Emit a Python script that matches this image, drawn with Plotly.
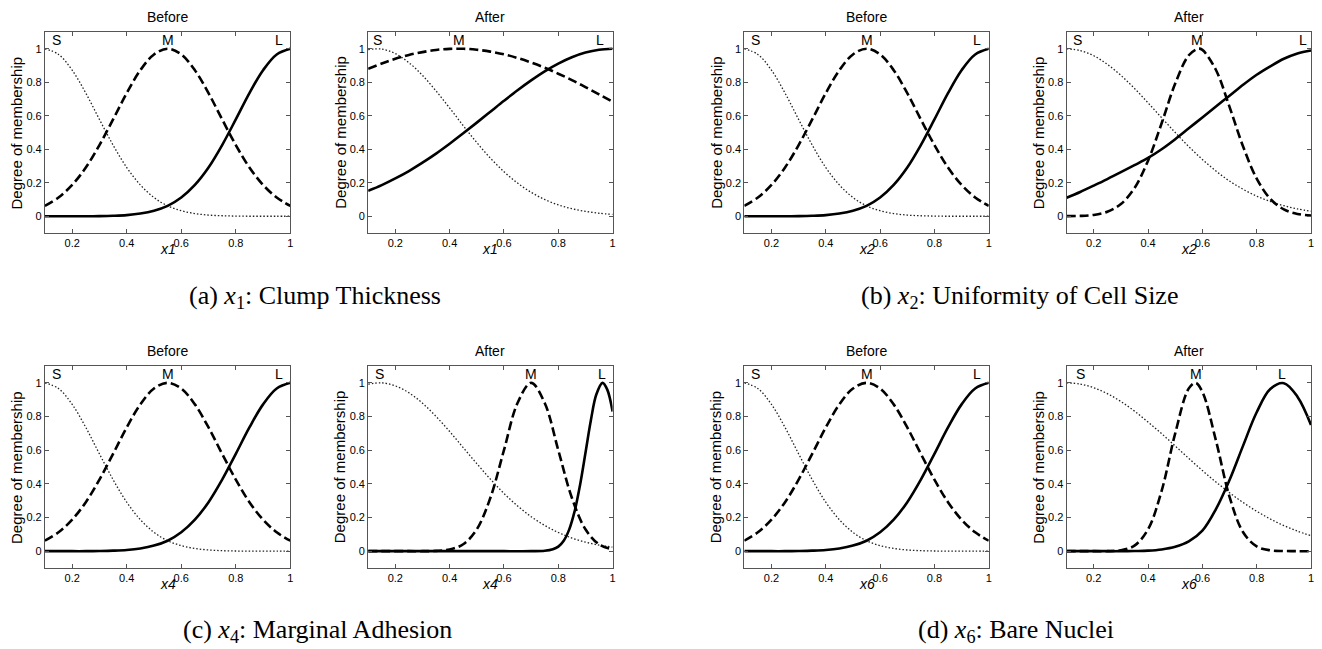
import plotly.graph_objects as go

W, H = 1322, 649

# ---------------- data ----------------
x_grid = [0.10, 0.15, 0.20, 0.25, 0.30, 0.35, 0.40, 0.45, 0.50, 0.55,
          0.60, 0.65, 0.70, 0.75, 0.80, 0.85, 0.90, 0.95, 1.00]

# "Before" panels (same initial partition for every input)
before_S = [1.000, 0.966, 0.872, 0.735, 0.578, 0.425, 0.291, 0.187, 0.112, 0.062,
            0.033, 0.016, 0.007, 0.003, 0.001, 0.000, 0.000, 0.000, 0.000]
before_M = [0.062, 0.112, 0.187, 0.291, 0.425, 0.578, 0.735, 0.872, 0.966, 1.000,
            0.966, 0.872, 0.735, 0.578, 0.425, 0.291, 0.187, 0.112, 0.062]
before_L = [0.000, 0.000, 0.000, 0.000, 0.001, 0.003, 0.007, 0.016, 0.033, 0.062,
            0.112, 0.187, 0.291, 0.425, 0.578, 0.735, 0.872, 0.966, 1.000]

# (a) x1 after
after1_S = [0.995, 0.998, 0.971, 0.917, 0.841, 0.748, 0.646, 0.541, 0.440, 0.347,
            0.266, 0.198, 0.143, 0.100, 0.068, 0.045, 0.029, 0.018, 0.011]
after1_M = [0.880, 0.912, 0.940, 0.963, 0.980, 0.993, 0.999, 1.000, 0.994, 0.983,
            0.967, 0.945, 0.918, 0.887, 0.851, 0.813, 0.771, 0.728, 0.683]
after1_L = [0.152, 0.186, 0.226, 0.270, 0.320, 0.374, 0.433, 0.495, 0.559, 0.624,
            0.689, 0.752, 0.811, 0.865, 0.911, 0.949, 0.977, 0.994, 1.000]

# (b) x2 after
after2_S = [1.000, 0.989, 0.958, 0.907, 0.841, 0.763, 0.677, 0.588, 0.500, 0.416,
            0.339, 0.270, 0.210, 0.161, 0.120, 0.088, 0.063, 0.044, 0.030]
x_after2_M = [0.10, 0.15, 0.20, 0.25, 0.30, 0.35, 0.40, 0.45, 0.50, 0.55, 0.585,
              0.60, 0.65, 0.70, 0.75, 0.80, 0.85, 0.90, 0.95, 1.00]
after2_M = [0.001, 0.002, 0.008, 0.027, 0.073, 0.168, 0.332, 0.555, 0.792, 0.961, 1.000,
            0.993, 0.873, 0.653, 0.416, 0.225, 0.104, 0.041, 0.014, 0.004]
after2_L = [0.110, 0.145, 0.183, 0.222, 0.263, 0.305, 0.348, 0.400, 0.460, 0.525,
            0.590, 0.655, 0.720, 0.785, 0.845, 0.895, 0.940, 0.972, 0.990]

# (c) x4 after
after3_S = [0.992, 1.000, 0.982, 0.941, 0.879, 0.800, 0.711, 0.615, 0.520, 0.428,
            0.343, 0.269, 0.205, 0.153, 0.111, 0.078, 0.054, 0.036, 0.024]
after3_M = [0.000, 0.000, 0.000, 0.000, 0.000, 0.002, 0.010, 0.041, 0.130, 0.317,
            0.600, 0.880, 1.000, 0.880, 0.600, 0.317, 0.130, 0.041, 0.010]
x_after3_L = [0.10, 0.20, 0.30, 0.40, 0.50, 0.60, 0.70, 0.75, 0.78, 0.80, 0.82, 0.84,
              0.86, 0.88, 0.90, 0.92, 0.94, 0.963, 0.98, 1.00]
after3_L = [0.000, 0.000, 0.000, 0.000, 0.000, 0.000, 0.000, 0.002, 0.011, 0.027, 0.062, 0.128,
            0.236, 0.392, 0.583, 0.778, 0.931, 1.000, 0.961, 0.830]

# (d) x6 after
after4_S = [1.000, 0.993, 0.971, 0.936, 0.889, 0.832, 0.767, 0.698, 0.625, 0.551,
            0.479, 0.411, 0.347, 0.289, 0.237, 0.191, 0.152, 0.119, 0.092]
x_after4_M = [0.10, 0.15, 0.20, 0.25, 0.30, 0.35, 0.40, 0.45, 0.50, 0.55, 0.575,
              0.60, 0.65, 0.70, 0.75, 0.80, 0.85, 0.90, 0.95, 1.00]
after4_M = [0.000, 0.000, 0.000, 0.000, 0.006, 0.033, 0.130, 0.358, 0.700, 0.967, 1.000,
            0.947, 0.657, 0.323, 0.112, 0.028, 0.005, 0.001, 0.000, 0.000]
after4_L = [0.000, 0.000, 0.000, 0.000, 0.000, 0.001, 0.003, 0.010, 0.026, 0.058,
            0.122, 0.250, 0.423, 0.627, 0.825, 0.963, 0.998, 0.918, 0.750]

set_labels = ["S", "M", "L"]
panel_titles = ["Before", "After"]
input_names = ["x1", "x2", "x4", "x6"]
captions = ["(a) <i>x</i><sub>1</sub>: Clump Thickness",
            "(b) <i>x</i><sub>2</sub>: Uniformity of Cell Size",
            "(c) <i>x</i><sub>4</sub>: Marginal Adhesion",
            "(d) <i>x</i><sub>6</sub>: Bare Nuclei"]
x_ticks = [0.2, 0.4, 0.6, 0.8, 1.0]
x_ticktext = ["0.2", "0.4", "0.6", "0.8", "1"]
y_ticks = [0, 0.2, 0.4, 0.6, 0.8, 1.0]
y_ticktext = ["0", "0.2", "0.4", "0.6", "0.8", "1"]

# label anchor positions for S / M / L (near each peak)
before_label_x = [0.143, 0.55, 0.958]
after_label_x = [[0.135, 0.434, 0.955],
                 [0.140, 0.581, 0.970],
                 [0.140, 0.698, 0.961],
                 [0.153, 0.575, 0.893]]

# ---------------- layout geometry (pixels) ----------------
col_px = [(45, 291), (369, 614), (746, 991), (1069, 1314)]
row_px = [(32, 233), (366, 568)]

SANS = "Liberation Sans, Arial, Helvetica, sans-serif"
SERIF = "Liberation Serif, Times New Roman, serif"

styles = {
    "S": dict(color="#222222", width=1.3, dash="1.5px,2px"),
    "M": dict(color="black", width=2.6, dash="9px,4px"),
    "L": dict(color="black", width=2.6),
}

panels = []
before_series = [(x_grid, before_S), (x_grid, before_M), (x_grid, before_L)]
after_series = [
    [(x_grid, after1_S), (x_grid, after1_M), (x_grid, after1_L)],
    [(x_grid, after2_S), (x_after2_M, after2_M), (x_grid, after2_L)],
    [(x_grid, after3_S), (x_grid, after3_M), (x_after3_L, after3_L)],
    [(x_grid, after4_S), (x_after4_M, after4_M), (x_grid, after4_L)],
]
for i in range(4):
    r = i // 2
    c0 = (i % 2) * 2
    panels.append((r, c0, before_series, before_label_x, input_names[i], panel_titles[0]))
    panels.append((r, c0 + 1, after_series[i], after_label_x[i], input_names[i], panel_titles[1]))

fig = go.Figure()
annotations = []
layout_axes = {}


def px_x(p):
    return p / W


def px_y(p):
    return 1 - p / H


for k, (r, c, series, lab_x, name, title) in enumerate(panels):
    idx = k + 1
    xa = "x" if idx == 1 else f"x{idx}"
    ya = "y" if idx == 1 else f"y{idx}"
    for (xs, ys), lab in zip(series, set_labels):
        fig.add_trace(go.Scatter(x=xs, y=ys, mode="lines", line=styles[lab],
                                 line_shape="spline", hoverinfo="skip",
                                 showlegend=False, xaxis=xa, yaxis=ya))
    x0, x1 = col_px[c]
    y0, y1 = row_px[r]
    axis_common = dict(showgrid=False, zeroline=False, showline=True, linecolor="#555555",
                       linewidth=1, mirror="allticks", ticks="inside", ticklen=4,
                       tickcolor="#555555", tickfont=dict(family=SANS, size=11, color="black"),
                       fixedrange=True)
    layout_axes["xaxis" if idx == 1 else f"xaxis{idx}"] = dict(
        domain=[px_x(x0), px_x(x1)], range=[0.1, 1.0], tickvals=x_ticks, ticktext=x_ticktext,
        anchor=ya, **axis_common)
    layout_axes["yaxis" if idx == 1 else f"yaxis{idx}"] = dict(
        domain=[px_y(y1), px_y(y0)], range=[-0.1, 1.1], tickvals=y_ticks, ticktext=y_ticktext,
        anchor=xa, **axis_common)
    for lx, lab in zip(lab_x, set_labels):
        annotations.append(dict(x=lx, y=1.05, xref=xa, yref=ya, text=lab, showarrow=False,
                                xanchor="center", yanchor="middle",
                                font=dict(family=SANS, size=14, color="black")))
    cx = (x0 + x1) / 2
    annotations.append(dict(x=px_x(cx), y=px_y(y0 - 15.5), xref="paper", yref="paper",
                            text=title, showarrow=False, xanchor="center", yanchor="middle",
                            font=dict(family=SANS, size=14, color="black")))
    annotations.append(dict(x=px_x(cx), y=px_y(y1 + 16), xref="paper", yref="paper",
                            text=f"<i>{name}</i>", showarrow=False, xanchor="center",
                            yanchor="middle", font=dict(family=SANS, size=14, color="black")))
    annotations.append(dict(x=px_x(x0 - 28), y=px_y((y0 + y1) / 2), xref="paper", yref="paper",
                            text="Degree of membership", textangle=-90, showarrow=False,
                            xanchor="center", yanchor="middle",
                            font=dict(family=SANS, size=15, color="black")))

caption_pos = [(316, 297), (1022, 297), (318, 631), (1018, 631)]
for cap, (cx, cy) in zip(captions, caption_pos):
    annotations.append(dict(x=px_x(cx), y=px_y(cy), xref="paper", yref="paper", text=cap,
                            showarrow=False, xanchor="center", yanchor="middle",
                            font=dict(family=SERIF, size=26, color="black")))

fig.update_layout(width=W, height=H, margin=dict(l=0, r=0, t=0, b=0),
                  paper_bgcolor="white", plot_bgcolor="white", showlegend=False,
                  annotations=annotations, **layout_axes)

fig.write_html("out.html",
               config={"displayModeBar": False, "staticPlot": True},
               post_script="document.body.style.margin='0';"
                           "document.body.style.padding='0';"
                           "document.body.style.overflow='hidden';")
